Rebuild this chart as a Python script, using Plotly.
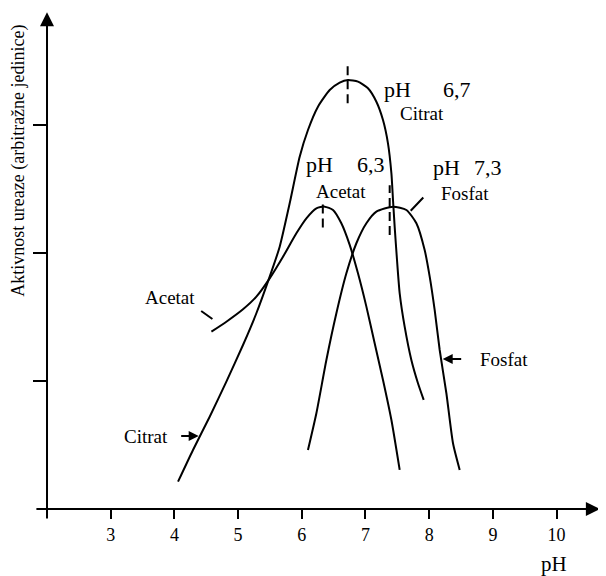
import plotly.graph_objects as go

# ---- data ----
citrat_ph = [4.057, 4.292, 4.554, 4.816, 5.077, 5.287, 5.496, 5.653, 5.810, 5.967, 6.097, 6.254, 6.438, 6.595,
             6.725, 6.882, 7.039, 7.171, 7.275, 7.353, 7.407, 7.432, 7.458, 7.495, 7.537, 7.615, 7.720, 7.824, 7.914]
citrat_act = [0.213, 0.461, 0.721, 0.995, 1.281, 1.529, 1.815, 2.049, 2.388, 2.752, 2.961, 3.143, 3.273, 3.331,
              3.352, 3.339, 3.287, 3.182, 3.039, 2.857, 2.622, 2.414, 2.206, 1.945, 1.685, 1.424, 1.164, 0.982, 0.852]

acetat_ph = [4.581, 4.816, 5.077, 5.287, 5.496, 5.705, 5.915, 6.072, 6.229, 6.359, 6.490, 6.621, 6.752, 6.882,
             7.014, 7.144, 7.275, 7.407, 7.537]
acetat_act = [1.385, 1.463, 1.560, 1.659, 1.802, 1.971, 2.154, 2.271, 2.349, 2.362, 2.336, 2.232, 2.063, 1.841,
              1.581, 1.294, 1.008, 0.695, 0.305]

fosfat_ph = [6.097, 6.229, 6.386, 6.543, 6.700, 6.857, 7.014, 7.171, 7.432, 7.642, 7.799, 7.929, 8.008, 8.086,
             8.165, 8.270, 8.374, 8.479]
fosfat_act = [0.461, 0.748, 1.164, 1.529, 1.841, 2.076, 2.232, 2.323, 2.362, 2.336, 2.232, 2.023, 1.815, 1.555,
              1.242, 0.904, 0.513, 0.305]

# optimum markers (dashed vertical lines)
opt_names = ["Citrat", "Acetat", "Fosfat"]
opt_labels = ["6,7", "6,3", "7,3"]
opt_x = [6.72, 6.33, 7.38]
opt_y0 = [3.17, 2.20, 2.14]
opt_y1 = [3.49, 2.39, 2.53]

x_ticks = [3, 4, 5, 6, 7, 8, 9, 10]
y_ticks = [1, 2, 3]

FONT = "Liberation Serif"
X_RANGE = [1.419, 10.776]
Y_RANGE = [-0.305, 3.914]

fig = go.Figure()
for xs, ys in [(citrat_ph, citrat_act), (acetat_ph, acetat_act), (fosfat_ph, fosfat_act)]:
    fig.add_trace(go.Scatter(x=xs, y=ys, mode="lines",
                             line=dict(color="black", width=2, shape="spline", smoothing=0.6),
                             showlegend=False, hoverinfo="skip"))

for xv, a, b in zip(opt_x, opt_y0, opt_y1):
    fig.add_trace(go.Scatter(x=[xv, xv], y=[a, b], mode="lines",
                             line=dict(color="black", width=2, dash="9px,5px"),
                             showlegend=False, hoverinfo="skip"))

ann = []
# axes with arrow heads
ann.append(dict(x=10.68, y=0, ax=1.81, ay=0, xref="x", yref="y", axref="x", ayref="y",
                text="", showarrow=True, arrowhead=2, arrowsize=1.4, arrowwidth=2, arrowcolor="black"))
ann.append(dict(x=2, y=3.88, ax=2, ay=-0.086, xref="x", yref="y", axref="x", ayref="y",
                text="", showarrow=True, arrowhead=2, arrowsize=1.4, arrowwidth=2, arrowcolor="black"))

big = dict(family=FONT, size=22, color="black")
mid = dict(family=FONT, size=19, color="black")

def txt(x, y, t, font):
    ann.append(dict(x=x, y=y, xref="x", yref="y", text=t, showarrow=False, font=font,
                    xanchor="center", yanchor="middle"))

# peak labels
txt(7.505, 3.281, "pH", big); txt(8.43, 3.281, opt_labels[0], big); txt(7.88, 3.086, opt_names[0], mid)
txt(6.28, 2.695, "pH", big); txt(7.08, 2.695, opt_labels[1], big); txt(6.61, 2.484, opt_names[1], mid)
txt(8.27, 2.664, "pH", big); txt(8.93, 2.664, opt_labels[2], big); txt(8.56, 2.461, opt_names[2], mid)

# side labels
txt(3.93, 1.656, "Acetat", mid)
txt(3.55, 0.5625, "Citrat", mid)
txt(9.17, 1.164, "Fosfat", mid)

# pointer lines / arrows
ann.append(dict(x=4.597, y=1.484, ax=4.397, ay=1.555, xref="x", yref="y", axref="x", ayref="y",
                text="", showarrow=True, arrowhead=0, arrowwidth=2, arrowcolor="black"))
ann.append(dict(x=7.71, y=2.33, ax=7.93, ay=2.445, xref="x", yref="y", axref="x", ayref="y",
                text="", showarrow=True, arrowhead=0, arrowwidth=2, arrowcolor="black"))
ann.append(dict(x=4.381, y=0.570, ax=4.083, ay=0.570, xref="x", yref="y", axref="x", ayref="y",
                text="", showarrow=True, arrowhead=2, arrowsize=1, arrowwidth=2, arrowcolor="black"))
ann.append(dict(x=8.212, y=1.172, ax=8.526, ay=1.172, xref="x", yref="y", axref="x", ayref="y",
                text="", showarrow=True, arrowhead=2, arrowsize=1, arrowwidth=2, arrowcolor="black"))

# axis titles
ann.append(dict(x=0.9128, y=-0.0296, xref="paper", yref="paper", text="pH", showarrow=False,
                xanchor="center", yanchor="middle", font=dict(family=FONT, size=21, color="black")))
ann.append(dict(x=1.56, y=2.72, xref="x", yref="y", text="Aktivnost ureaze (arbitražne jedinice)",
                textangle=-90, showarrow=False, xanchor="center", yanchor="middle",
                font=dict(family=FONT, size=18, color="black")))

xpos = (0 - Y_RANGE[0]) / (Y_RANGE[1] - Y_RANGE[0])
ypos = (2 - X_RANGE[0]) / (X_RANGE[1] - X_RANGE[0])

fig.update_layout(
    width=598, height=568,
    margin=dict(l=2, r=0, t=0, b=28),
    paper_bgcolor="white", plot_bgcolor="white",
    showlegend=False,
    annotations=ann,
    xaxis=dict(range=X_RANGE, anchor="free", position=xpos, showline=False, showgrid=False, zeroline=False,
               ticks="outside", ticklen=9, tickwidth=2, tickcolor="black", tickvals=x_ticks,
               ticktext=[str(v) for v in x_ticks], tickfont=dict(family=FONT, size=18, color="black")),
    yaxis=dict(range=Y_RANGE, anchor="free", position=ypos, showline=False, showgrid=False, zeroline=False,
               ticks="outside", ticklen=14, tickwidth=2, tickcolor="black", tickvals=y_ticks,
               showticklabels=False),
)

fig.write_html("out.html")
